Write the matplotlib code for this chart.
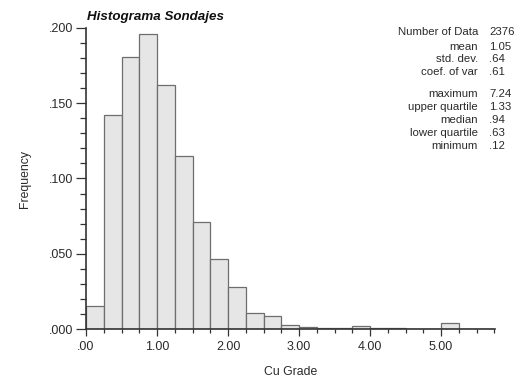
import matplotlib
matplotlib.use("Agg")
import matplotlib.pyplot as plt
from matplotlib.ticker import MultipleLocator, FuncFormatter

plt.rcParams['font.family'] = ['Liberation Sans', 'DejaVu Sans']

# Data
bin_left = [0.00, 0.25, 0.50, 0.75, 1.00, 1.25, 1.50, 1.75, 2.00, 2.25, 2.50,
            2.75, 3.00, 3.25, 3.50, 3.75, 4.00, 4.25, 4.50, 4.75, 5.00, 5.25, 5.50]
freq = [0.015, 0.142, 0.181, 0.196, 0.162, 0.115, 0.071, 0.0465, 0.028, 0.0104, 0.0086,
        0.0025, 0.0015, 0.0009, 0.0009, 0.0020, 0.0005, 0.0005, 0.0002, 0.0, 0.0038, 0.0, 0.0]
bin_width = 0.25

stat_labels = ["Number of Data", "mean", "std. dev.", "coef. of var",
               "maximum", "upper quartile", "median", "lower quartile", "minimum"]
stat_values = ["2376", "1.05", ".64", ".61", "7.24", "1.33", ".94", ".63", ".12"]

fig = plt.figure(figsize=(5.2, 3.8), dpi=100)
ax = fig.add_axes([86/520, 1-329/380, (495-86)/520, (329-28)/380])

ax.bar(bin_left, freq, width=bin_width, align='edge', color='#e6e6e6',
       edgecolor='#6e6e6e', linewidth=0.9, zorder=2)

ax.set_xlim(0, 5.76)
ax.set_ylim(0, 0.2)
for s in ['top', 'right']:
    ax.spines[s].set_visible(False)
for s in ['left', 'bottom']:
    ax.spines[s].set_color('#333333')
    ax.spines[s].set_linewidth(1.2)
    ax.spines[s].set_zorder(3)

ax.xaxis.set_major_locator(MultipleLocator(1.0))
ax.xaxis.set_minor_locator(MultipleLocator(0.25))
ax.yaxis.set_major_locator(MultipleLocator(0.05))
ax.yaxis.set_minor_locator(MultipleLocator(0.01))

def fmt(v, pos, nd):
    s = f"{v:.{nd}f}"
    if s.startswith("0."):
        s = s[1:]
    return s

ax.xaxis.set_major_formatter(FuncFormatter(lambda v, p: fmt(v, p, 2)))
ax.yaxis.set_major_formatter(FuncFormatter(lambda v, p: fmt(v, p, 3)))

ax.tick_params(axis='both', which='both', direction='out', width=0.9,
               color='#333333', labelsize=9, labelcolor='#2a2a2a')
ax.tick_params(axis='y', which='major', length=7.2, pad=2)
ax.tick_params(axis='y', which='minor', length=4.3)
ax.tick_params(axis='x', which='major', length=5, pad=4)
ax.tick_params(axis='x', which='minor', length=3)

ax.set_xlabel("Cu Grade", fontsize=8.8, color='#2a2a2a', labelpad=9)
ax.set_ylabel("Frequency", fontsize=8.8, color='#2a2a2a', labelpad=13)

fig.text(87/520, 1-17/380, "Histograma Sondajes", fontsize=9.6, fontweight='bold',
         fontstyle='italic', ha='left', va='center', color='#111111')

ys = [32, 47, 59, 72, 94, 107, 120, 133, 146]
for lab, val, y in zip(stat_labels, stat_values, ys):
    fig.text(478/520, 1-y/380, lab, fontsize=8.2, ha='right', va='center', color='#2a2a2a')
    fig.text(489/520, 1-y/380, val, fontsize=8.2, ha='left', va='center', color='#2a2a2a')

fig.savefig("out.png", dpi=100)
